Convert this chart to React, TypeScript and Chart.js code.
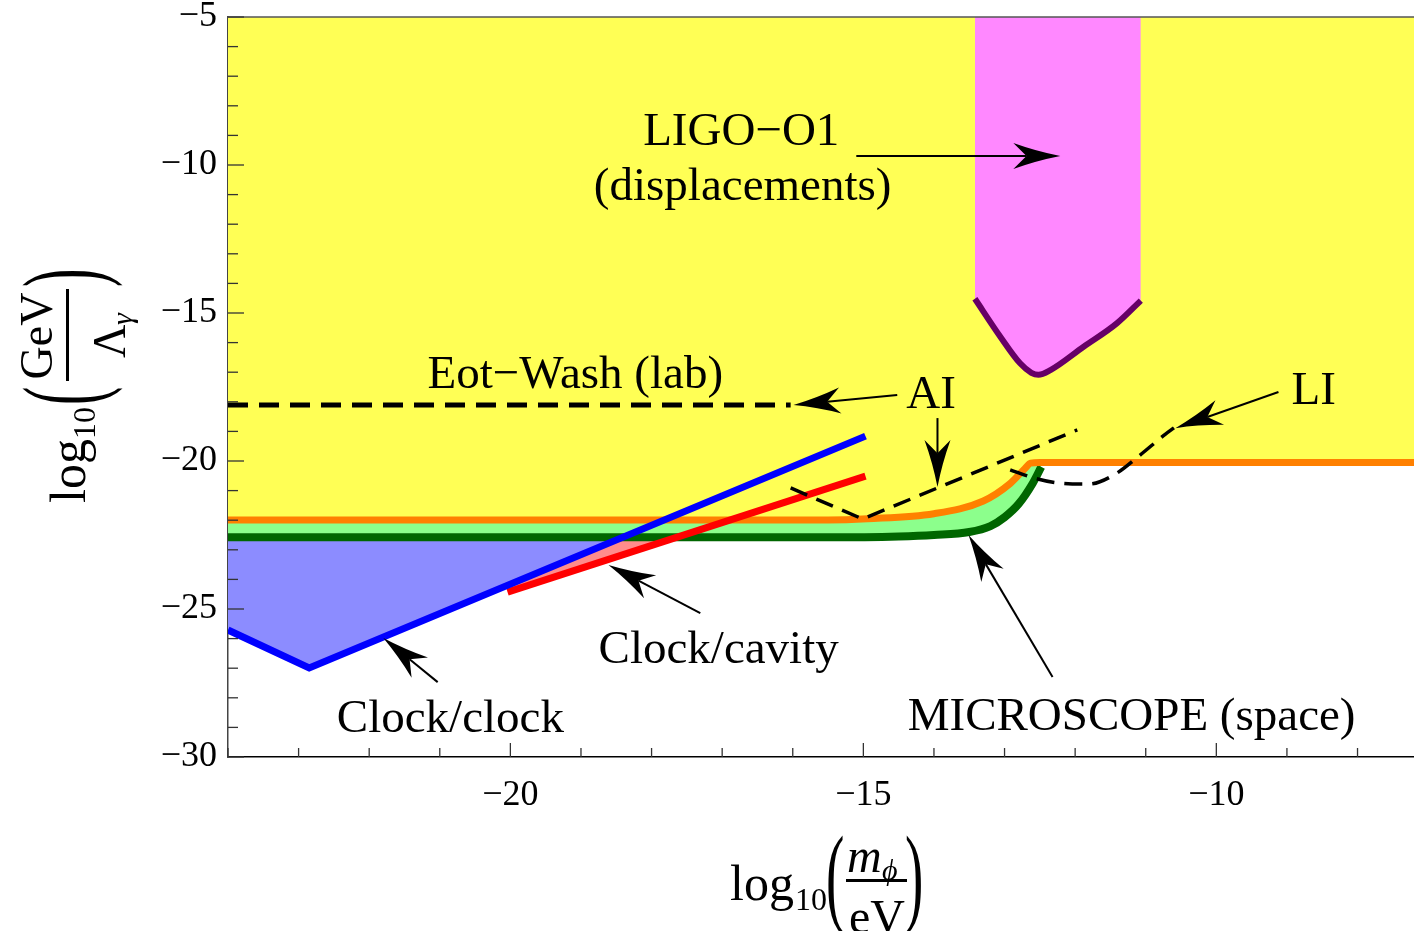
import React, { useEffect, useRef } from 'react';
import { Chart, registerables } from 'chart.js';

Chart.register(...registerables);

const FONT = "'Liberation Serif', 'Times New Roman', serif";

// axis ranges
const X_MIN = -24;
const X_MAX = -7.2;
const Y_MIN = -30;
const Y_MAX = -5;

// MICROSCOPE / torsion balance boundary (orange)
const orangeX = [-24, -15.5, -14.94, -14.0, -13.3, -12.92, -12.71, -12.63, -12.5, -7.2];
const orangeY = [-21.99, -21.99, -21.95, -21.78, -21.35, -20.76, -20.25, -20.07, -20.05, -20.05];

// MICROSCOPE (space) projected boundary (dark green)
const greenX = [-24, -15.5, -14.5, -14.0, -13.5, -13.2, -13.0, -12.8, -12.6, -12.48];
const greenY = [-22.58, -22.58, -22.55, -22.5, -22.4, -22.2, -21.9, -21.45, -20.75, -20.2];

// LIGO-O1 displacement bound (purple)
const ligoX = [-13.42, -13.06, -12.78, -12.62, -12.52, -12.35, -11.88, -11.41, -11.07];
const ligoY = [-14.52, -15.8, -16.7, -17.02, -17.09, -16.93, -16.14, -15.35, -14.58];

// Clock/clock (blue)
const blueX = [-24, -22.85, -14.97];
const blueY = [-25.71, -26.99, -19.16];
const blueFillX = [-24, -22.85, -18.41];
const blueFillY = [-25.71, -26.99, -22.58];

// Clock/cavity (red)
const redX = [-20.04, -14.97];
const redY = [-24.43, -20.51];
const pinkFillX = [-20.04, -17.65];
const pinkFillY = [-24.43, -22.58];
const FILL_TOP = -22.58;

// Eot-Wash (lab) dashed
const eotX = [-24, -16.03];
const eotY = [-18.11, -18.11];

// AI dashed
const aiX = [-16.03, -15.01, -11.97];
const aiY = [-20.91, -21.96, -18.95];

// LI dashed
const liX = [-12.92, -12.59, -12.25, -11.81, -11.43, -11.08, -10.72, -10.6];
const liY = [-20.3, -20.57, -20.74, -20.78, -20.44, -19.8, -19.09, -18.88];

// text labels (data coords: centre x, baseline y)
const labelText = ['LIGO\u2212O1', '(displacements)', 'Eot\u2212Wash (lab)', 'AI', 'LI', 'Clock/clock', 'Clock/cavity', 'MICROSCOPE (space)'];
const labelX = [-16.73, -16.71, -19.08, -14.04, -8.62, -20.85, -17.05, -11.2];
const labelY = [-9.32, -11.18, -17.53, -18.21, -18.07, -29.16, -26.82, -29.09];

// arrows (data coords: from -> tip)
const arrowFromX = [-15.1, -14.52, -13.95, -9.12, -21.03, -17.31, -12.32];
const arrowFromY = [-9.7, -17.77, -18.55, -17.67, -27.47, -25.14, -27.3];
const arrowToX = [-12.21, -15.99, -13.95, -10.58, -21.8, -18.61, -13.51];
const arrowToY = [-9.7, -18.11, -20.88, -18.89, -25.98, -23.51, -22.5];

const pts = (xs: number[], ys: number[]) => xs.map((x, i) => ({ x, y: ys[i] }));

const fmt = (v: number) => (Math.abs(v % 5) < 1e-9 ? String(v).replace('-', '\u2212') : '');

function drawArrow(ctx: CanvasRenderingContext2D, x1: number, y1: number, x2: number, y2: number) {
  const headLen = 47;
  const headW = 13;
  const ang = Math.atan2(y2 - y1, x2 - x1);
  const ux = Math.cos(ang);
  const uy = Math.sin(ang);
  const px = -uy;
  const py = ux;
  const bx = x2 - ux * headLen;
  const by = y2 - uy * headLen;
  const nx = x2 - ux * headLen * 0.72;
  const ny = y2 - uy * headLen * 0.72;
  ctx.beginPath();
  ctx.moveTo(x1, y1);
  ctx.lineTo(nx, ny);
  ctx.lineWidth = 2;
  ctx.strokeStyle = '#000';
  ctx.stroke();
  ctx.beginPath();
  ctx.moveTo(x2, y2);
  ctx.quadraticCurveTo(x2 - ux * headLen * 0.5 + px * headW * 0.35, y2 - uy * headLen * 0.5 + py * headW * 0.35, bx + px * headW, by + py * headW);
  ctx.lineTo(nx, ny);
  ctx.lineTo(bx - px * headW, by - py * headW);
  ctx.quadraticCurveTo(x2 - ux * headLen * 0.5 - px * headW * 0.35, y2 - uy * headLen * 0.5 - py * headW * 0.35, x2, y2);
  ctx.closePath();
  ctx.fillStyle = '#000';
  ctx.fill();
}

const overlayPlugin = {
  id: 'overlay',
  afterDatasetsDraw(chart: any) {
    const { ctx, chartArea: a, scales } = chart;
    const xs = scales.x;
    const ys = scales.y;
    ctx.save();
    // frame top line
    ctx.strokeStyle = '#555';
    ctx.lineWidth = 1.5;
    ctx.beginPath();
    ctx.moveTo(a.left, a.top);
    ctx.lineTo(a.right, a.top);
    ctx.stroke();
    // tick marks
    ctx.strokeStyle = '#333';
    ctx.lineWidth = 1.3;
    for (let v = Math.ceil(X_MIN); v <= X_MAX; v++) {
      const p = xs.getPixelForValue(v);
      const len = v % 5 === 0 ? 14 : 9;
      ctx.beginPath();
      ctx.moveTo(p, a.bottom);
      ctx.lineTo(p, a.bottom - len);
      ctx.stroke();
    }
    for (let v = Y_MIN; v <= Y_MAX; v++) {
      const p = ys.getPixelForValue(v);
      const len = v % 5 === 0 ? 16 : 10;
      ctx.beginPath();
      ctx.moveTo(a.left, p);
      ctx.lineTo(a.left + len, p);
      ctx.stroke();
    }
    // arrows
    for (let i = 0; i < arrowFromX.length; i++) {
      drawArrow(
        ctx,
        xs.getPixelForValue(arrowFromX[i]),
        ys.getPixelForValue(arrowFromY[i]),
        xs.getPixelForValue(arrowToX[i]),
        ys.getPixelForValue(arrowToY[i])
      );
    }
    // labels
    ctx.fillStyle = '#000';
    ctx.font = `47px ${FONT}`;
    ctx.textAlign = 'center';
    ctx.textBaseline = 'alphabetic';
    for (let i = 0; i < labelText.length; i++) {
      ctx.fillText(labelText[i], xs.getPixelForValue(labelX[i]), ys.getPixelForValue(labelY[i]));
    }
    ctx.restore();

    // x axis title
    ctx.save();
    ctx.fillStyle = '#000';
    ctx.textAlign = 'left';
    ctx.textBaseline = 'alphabetic';
    ctx.font = `50px ${FONT}`;
    ctx.fillText('log', 730, 900);
    ctx.font = `32px ${FONT}`;
    ctx.fillText('10', 795, 910);
    ctx.save();
    ctx.translate(826, 912);
    ctx.scale(0.5, 1);
    ctx.font = `110px ${FONT}`;
    ctx.fillText('(', 0, 0);
    ctx.restore();
    ctx.font = `italic 48px ${FONT}`;
    ctx.fillText('m', 847, 872);
    ctx.font = `italic 30px ${FONT}`;
    ctx.fillText('\u03D5', 882, 880);
    ctx.fillRect(846, 879, 61, 3);
    ctx.font = `48px ${FONT}`;
    ctx.fillText('eV', 849, 933);
    ctx.save();
    ctx.translate(905, 912);
    ctx.scale(0.5, 1);
    ctx.font = `110px ${FONT}`;
    ctx.fillText(')', 0, 0);
    ctx.restore();
    ctx.restore();

    // y axis title (rotated)
    ctx.save();
    ctx.translate(0, 505);
    ctx.rotate(-Math.PI / 2);
    ctx.fillStyle = '#000';
    ctx.textAlign = 'left';
    ctx.textBaseline = 'alphabetic';
    ctx.font = `50px ${FONT}`;
    ctx.fillText('log', 2, 85);
    ctx.font = `32px ${FONT}`;
    ctx.fillText('10', 66, 95);
    ctx.save();
    ctx.translate(100, 99);
    ctx.scale(0.5, 1);
    ctx.font = `110px ${FONT}`;
    ctx.fillText('(', 0, 0);
    ctx.restore();
    ctx.textAlign = 'center';
    ctx.font = `46px ${FONT}`;
    ctx.fillText('GeV', 169, 52);
    ctx.fillRect(124, 66, 92, 3);
    ctx.textAlign = 'left';
    ctx.font = `46px ${FONT}`;
    ctx.fillText('\u039B', 147, 125);
    ctx.font = `italic 30px ${FONT}`;
    ctx.fillText('\u03B3', 180, 132);
    ctx.save();
    ctx.translate(218, 99);
    ctx.scale(0.5, 1);
    ctx.font = `110px ${FONT}`;
    ctx.fillText(')', 0, 0);
    ctx.restore();
    ctx.restore();
  },
};

export default function App() {
  const canvasRef = useRef<HTMLCanvasElement | null>(null);

  useEffect(() => {
    const canvas = canvasRef.current;
    if (!canvas) return;
    const base = { pointRadius: 0, pointHoverRadius: 0, fill: false };
    const chart = new Chart(canvas, {
      type: 'line',
      data: {
        datasets: [
          // 0 yellow region above orange boundary
          {
            ...base,
            data: pts(orangeX, orangeY),
            borderWidth: 0,
            borderColor: 'rgba(0,0,0,0)',
            backgroundColor: '#ffff55',
            fill: 'end',
            cubicInterpolationMode: 'monotone',
            order: 100,
          },
          // 1 LIGO region
          {
            ...base,
            data: pts(ligoX, ligoY),
            borderWidth: 6,
            borderColor: '#660066',
            backgroundColor: '#ff88ff',
            fill: 'end',
            cubicInterpolationMode: 'monotone',
            borderJoinStyle: 'round',
            order: 95,
          },
          // 2 pink (clock/cavity) region
          {
            ...base,
            data: pts(pinkFillX, pinkFillY),
            borderWidth: 0,
            borderColor: 'rgba(0,0,0,0)',
            backgroundColor: '#ff8c8c',
            fill: { value: FILL_TOP },
            order: 92,
          },
          // 3 blue (clock/clock) region
          {
            ...base,
            data: pts(blueFillX, blueFillY),
            borderWidth: 0,
            borderColor: 'rgba(0,0,0,0)',
            backgroundColor: '#8c8cff',
            fill: { value: FILL_TOP },
            order: 91,
          },
          // 4 green band + dark green line
          {
            ...base,
            data: pts(greenX, greenY),
            borderWidth: 8,
            borderColor: '#006600',
            backgroundColor: '#8cff8c',
            fill: { target: 0 },
            cubicInterpolationMode: 'monotone',
            order: 90,
          },
          // 5 orange line
          {
            ...base,
            data: pts(orangeX, orangeY),
            borderWidth: 7,
            borderColor: '#ff8000',
            cubicInterpolationMode: 'monotone',
            order: 80,
          },
          // 6 red line
          {
            ...base,
            data: pts(redX, redY),
            borderWidth: 7,
            borderColor: '#ff0000',
            order: 70,
          },
          // 7 blue line
          {
            ...base,
            data: pts(blueX, blueY),
            borderWidth: 7,
            borderColor: '#0000ff',
            borderJoinStyle: 'miter',
            order: 69,
          },
          // 8 Eot-Wash dashed
          {
            ...base,
            data: pts(eotX, eotY),
            borderWidth: 5,
            borderColor: '#000',
            borderDash: [20, 11],
            order: 60,
          },
          // 9 AI dashed
          {
            ...base,
            data: pts(aiX, aiY),
            borderWidth: 3.5,
            borderColor: '#000',
            borderDash: [18, 10],
            order: 60,
          },
          // 10 LI dashed
          {
            ...base,
            data: pts(liX, liY),
            borderWidth: 3.5,
            borderColor: '#000',
            borderDash: [18, 10],
            cubicInterpolationMode: 'monotone',
            order: 60,
          },
        ],
      },
      options: {
        animation: false,
        responsive: true,
        maintainAspectRatio: false,
        devicePixelRatio: 1,
        events: [],
        layout: { padding: { top: 17, left: 0, right: 0, bottom: 0 } },
        plugins: {
          legend: { display: false },
          tooltip: { enabled: false },
          filler: { propagate: false },
        },
        scales: {
          x: {
            type: 'linear',
            min: X_MIN,
            max: X_MAX,
            grid: { display: false, drawTicks: false },
            border: { display: true, color: '#000', width: 1.5 },
            ticks: {
              stepSize: 1,
              autoSkip: false,
              maxRotation: 0,
              padding: 17,
              color: '#000',
              font: { family: FONT, size: 36 },
              callback: (v: any) => fmt(Number(v)),
            },
            afterFit: (s: any) => {
              s.height = 174;
              s.paddingLeft = 0;
              s.paddingRight = 0;
            },
          },
          y: {
            type: 'linear',
            min: Y_MIN,
            max: Y_MAX,
            grid: { display: false, drawTicks: false },
            border: { display: true, color: '#444', width: 1.5 },
            ticks: {
              stepSize: 1,
              autoSkip: false,
              padding: 11,
              color: '#000',
              font: { family: FONT, size: 36 },
              callback: (v: any) => fmt(Number(v)),
            },
            afterFit: (s: any) => {
              s.width = 228;
              s.paddingTop = 0;
              s.paddingBottom = 0;
            },
          },
        },
      },
      plugins: [overlayPlugin],
    } as any);
    return () => chart.destroy();
  }, []);

  return (
    <div style={{ position: 'fixed', left: 0, top: 0, width: 1414, height: 931, background: '#fff' }}>
      <canvas ref={canvasRef} />
    </div>
  );
}
